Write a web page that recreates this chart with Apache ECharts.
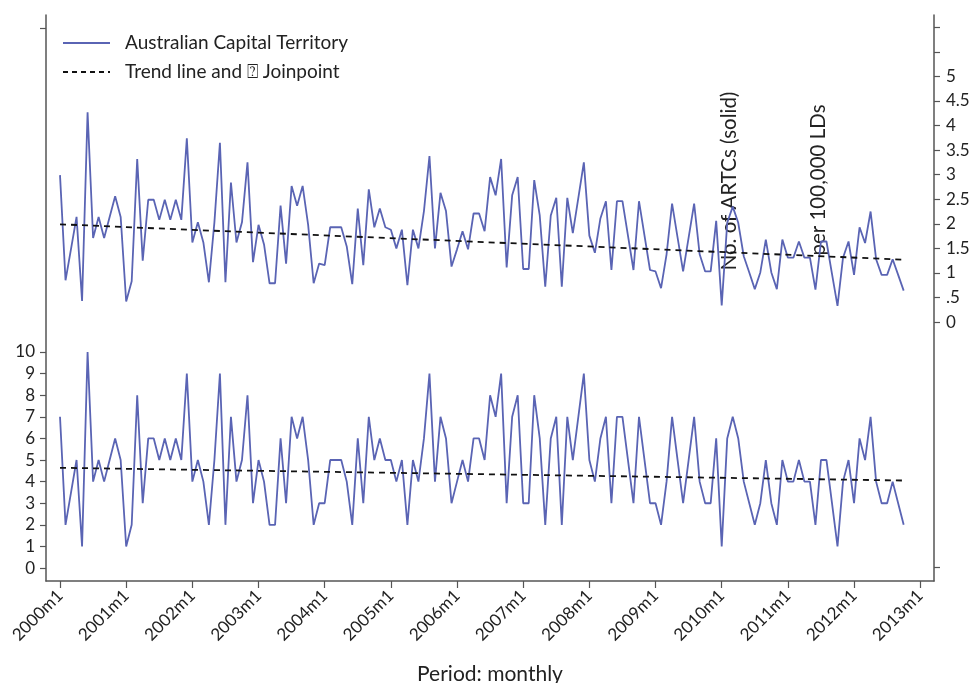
<!DOCTYPE html>
<html>
<head>
<meta charset="utf-8">
<script src="https://cdn.jsdelivr.net/npm/echarts@6/dist/echarts.min.js"></script>
<style>
  html, body { margin: 0; padding: 0; background: #fff; }
  #chart { width: 973px; height: 683px; }
</style>
</head>
<body>
<div id="chart"></div>
<script>
// Monthly series, 2000m1 .. 2012m10 (index 0 = 2000m1)
const tickLabels = ['2000m1','2001m1','2002m1','2003m1','2004m1','2005m1','2006m1',
  '2007m1','2008m1','2009m1','2010m1','2011m1','2012m1','2013m1'];

// Number of ARTCs per month (left axis)
const counts = [
  7,2,3.5,5,1,10,4,5,4,5,6,5,
  1,2,8,3,6,6,5,6,5,6,5,9,
  4,5,4,2,5,9,2,7,4,5,8,3,
  5,4,2,2,6,3,7,6,7,5,2,3,
  3,5,5,5,4,2,6,3,7,5,6,5,
  5,4,5,2,5,4,6,9,4,7,6,3,
  4,5,4,6,6,5,8,7,9,3,7,8,
  3,3,8,6,2,6,7,2,7,5,7,9,
  5,4,6,7,3,7,7,5,3,7,5,3,
  3,2,4,7,5,3,5,7,4,3,3,6,
  1,6,7,6,4,3,2,3,5,3,2,5,
  4,4,5,4,4,2,5,5,3,1,4,5,
  3,6,5,7,4,3,3,4,3,2
];

// ARTCs per 100,000 LDs (right axis)
const rates = [
  2.99,0.85,1.49,2.14,0.43,4.27,1.71,2.14,1.71,2.14,2.56,2.14,
  0.42,0.83,3.32,1.25,2.49,2.49,2.08,2.49,2.08,2.49,2.08,3.74,
  1.62,2.03,1.62,0.81,2.03,3.65,0.81,2.84,1.62,2.03,3.25,1.22,
  1.98,1.58,0.79,0.79,2.37,1.19,2.77,2.37,2.77,1.98,0.79,1.19,
  1.16,1.93,1.93,1.93,1.54,0.77,2.31,1.16,2.70,1.93,2.31,1.93,
  1.88,1.50,1.88,0.75,1.88,1.50,2.26,3.38,1.50,2.63,2.26,1.13,
  1.48,1.85,1.48,2.21,2.21,1.85,2.95,2.58,3.32,1.11,2.58,2.95,
  1.08,1.08,2.89,2.17,0.72,2.17,2.53,0.72,2.53,1.81,2.53,3.25,
  1.76,1.41,2.11,2.46,1.06,2.46,2.46,1.76,1.06,2.46,1.76,1.06,
  1.03,0.69,1.38,2.41,1.72,1.03,1.72,2.41,1.38,1.03,1.03,2.06,
  0.34,2.02,2.35,2.02,1.34,1.01,0.67,1.01,1.68,1.01,0.67,1.68,
  1.31,1.31,1.64,1.31,1.31,0.66,1.64,1.64,0.98,0.33,1.31,1.64,
  0.96,1.93,1.61,2.25,1.28,0.96,0.96,1.28,0.96,0.64
];

// Fitted trend lines: [month index, value]
const countTrend = [[0, 4.64], [153, 4.05]];
const rateTrend = [[0, 1.99], [153, 1.27]];

const legendNames = ['Australian Capital Territory', 'Trend line and \u2370 Joinpoint'];
const rightAxisTitle = ['No. of ARTCs (solid)', 'per 100,000 LDs'];

const FONT = 'Lato, "Open Sans", sans-serif';
const BLUE = '#5a64b4';
const AXIS = '#555';
const TEXT = '#222';

const tickPos = tickLabels.map((_, k) => k * 12);
const countTicks = [0,1,2,3,4,5,6,7,8,9,10];
const rateTicks = [0,0.5,1,1.5,2,2.5,3,3.5,4,4.5,5];

const chart = echarts.init(document.getElementById('chart'), null, { renderer: 'canvas' });

chart.setOption({
  animation: false,
  backgroundColor: '#fff',
  grid: { left: 46, right: 39, top: 15, bottom: 102, containLabel: false, outerBoundsMode: 'none' },
  xAxis: {
    type: 'value',
    min: -2.54, max: 158.5,
    axisLine: { show: true, onZero: false, lineStyle: { color: AXIS, width: 1.5 } },
    axisTick: { show: true, length: 7, customValues: tickPos, lineStyle: { color: AXIS, width: 1.2 } },
    axisLabel: {
      customValues: tickPos, rotate: 45, margin: 12,
      fontFamily: FONT, fontSize: 17, color: TEXT,
      formatter: v => tickLabels[Math.round(v / 12)]
    },
    splitLine: { show: false },
    name: 'Period: monthly', nameLocation: 'middle', nameGap: 83,
    nameTextStyle: { fontFamily: FONT, fontSize: 21, color: TEXT }
  },
  yAxis: [
    {
      type: 'value', position: 'left',
      min: -0.6, max: 25.6,
      axisLine: { show: true, onZero: false, lineStyle: { color: AXIS, width: 1.5 } },
      axisTick: { show: true, length: 6, customValues: countTicks.concat([25]), lineStyle: { color: AXIS, width: 1.2 } },
      axisLabel: { customValues: countTicks, margin: 11, fontFamily: FONT, fontSize: 17, color: TEXT },
      splitLine: { show: false }
    },
    {
      type: 'value', position: 'right',
      min: -5.27, max: 6.25,
      axisLine: { show: true, onZero: false, lineStyle: { color: AXIS, width: 1.5 } },
      axisTick: { show: true, length: 6, customValues: [-5].concat(rateTicks, [5.5, 6]), lineStyle: { color: AXIS, width: 1.2 } },
      axisLabel: {
        customValues: rateTicks, margin: 12, fontFamily: FONT, fontSize: 17, color: TEXT,
        formatter: v => (v > 0 && v < 1) ? String(v).replace(/^0/, '') : String(v)
      },
      splitLine: { show: false }
    }
  ],
  series: [
    {
      name: legendNames[0], type: 'line', yAxisIndex: 0, symbol: 'none',
      data: counts.map((v, i) => [i, v]),
      lineStyle: { color: BLUE, width: 1.8 }, z: 2
    },
    {
      name: legendNames[0], type: 'line', yAxisIndex: 1, symbol: 'none',
      data: rates.map((v, i) => [i, v]),
      lineStyle: { color: BLUE, width: 1.8 }, z: 2
    },
    {
      name: legendNames[1], type: 'line', yAxisIndex: 0, symbol: 'none',
      data: countTrend,
      lineStyle: { color: '#111', width: 1.8, type: [6, 5] }, z: 3
    },
    {
      name: legendNames[1], type: 'line', yAxisIndex: 1, symbol: 'none',
      data: rateTrend,
      lineStyle: { color: '#111', width: 1.8, type: [6, 5] }, z: 3
    }
  ],
  graphic: [
    { type: 'line', shape: { x1: 63, y1: 43, x2: 110, y2: 43 }, style: { stroke: BLUE, lineWidth: 1.8 } },
    { type: 'text', x: 125, y: 43, style: { text: legendNames[0], font: '19px ' + FONT, fill: TEXT, verticalAlign: 'middle' } },
    { type: 'line', shape: { x1: 63, y1: 72, x2: 110, y2: 72 }, style: { stroke: '#111', lineWidth: 1.8, lineDash: [5, 4] } },
    { type: 'text', x: 125, y: 72, style: { text: legendNames[1], font: '19px ' + FONT, fill: TEXT, verticalAlign: 'middle' } },
    { type: 'text', x: 729, y: 181, rotation: Math.PI / 2,
      style: { text: rightAxisTitle[0], font: '20.5px ' + FONT, fill: TEXT, align: 'center', verticalAlign: 'middle' } },
    { type: 'text', x: 818, y: 180, rotation: Math.PI / 2,
      style: { text: rightAxisTitle[1], font: '20.5px ' + FONT, fill: TEXT, align: 'center', verticalAlign: 'middle' } }
  ]
});
</script>
</body>
</html>
